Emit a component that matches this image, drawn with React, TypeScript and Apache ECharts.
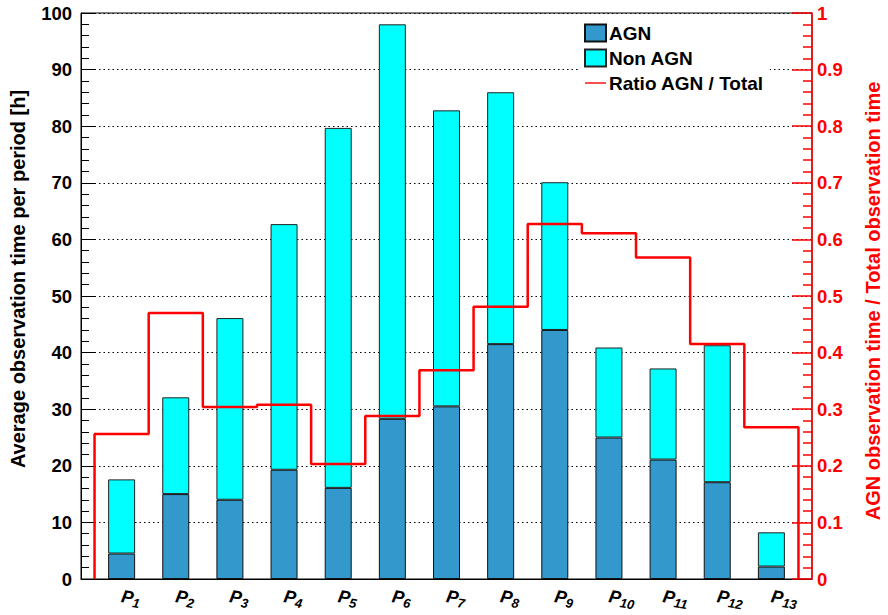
import React, { useEffect, useRef } from "react";
import * as echarts from "echarts";

const categories = ["1", "2", "3", "4", "5", "6", "7", "8", "9", "10", "11", "12", "13"];
const agnHours = [4.5, 15.0, 14.0, 19.3, 16.1, 28.3, 30.5, 41.5, 44.0, 25.0, 21.1, 17.1, 2.2];
const nonAgnHours = [13.1, 17.1, 32.1, 43.4, 63.6, 69.7, 52.3, 44.5, 26.1, 15.9, 16.1, 24.2, 6.05];
const ratioAgnTotal = [0.256, 0.47, 0.304, 0.308, 0.203, 0.288, 0.369, 0.481, 0.627, 0.611, 0.568, 0.415, 0.268];
const leftTicks = { min: 0, max: 100, interval: 10 };
const rightTicks = { min: 0, max: 1, interval: 0.1 };

const FONT = "'Liberation Sans', Arial, Helvetica, sans-serif";

// frame geometry
const FRAME = { left: 81, right: 76, top: 13, bottom: 36 };
const W = 888;

export default function App() {
  const ref = useRef<HTMLDivElement>(null);
  useEffect(() => {
    if (!ref.current) return;
    const chart = echarts.init(ref.current, null, { renderer: "svg" });
    const n = categories.length;
    const axisMin = -0.75;
    const axisMax = n - 0.25;
    const frameWidth = W - FRAME.left - FRAME.right;
    const unit = frameWidth / (axisMax - axisMin);
    const pad = (-0.5 - axisMin) * unit;

    const stepData: number[][] = [[-0.5, 0]];
    ratioAgnTotal.forEach((r, i) => stepData.push([i - 0.5, r]));
    stepData.push([n - 0.5, ratioAgnTotal[n - 1]]);
    stepData.push([n - 0.5, 0]);

    const tickFont = { fontFamily: FONT, fontSize: 18.5, fontWeight: "bold" };

    chart.setOption({
      animation: false,
      textStyle: { fontFamily: FONT },
      grid: [
        {
          left: FRAME.left,
          right: FRAME.right,
          top: FRAME.top,
          bottom: FRAME.bottom,
          show: true,
          borderColor: "#000",
          borderWidth: 1,
          backgroundColor: "transparent",
          outerBoundsMode: "none",
        },
        {
          left: FRAME.left + pad,
          right: FRAME.right + pad,
          top: FRAME.top,
          bottom: FRAME.bottom,
          show: false,
          outerBoundsMode: "none",
        },
      ],
      legend: {
        orient: "vertical",
        left: 580,
        top: 18,
        padding: [5, 6, 5, 4],
        backgroundColor: "#fff",
        itemWidth: 21,
        itemHeight: 17,
        itemGap: 5,
        symbolKeepAspect: true,
        textStyle: { fontFamily: FONT, fontSize: 19, fontWeight: "bold", color: "#000", lineHeight: 20, padding: [0, 0, 0, -2] },
        data: [
          { name: "AGN", icon: "rect" },
          { name: "Non AGN", icon: "rect" },
          { name: "Ratio AGN / Total", icon: "path://M0,0 H21 V1.4 H0 Z" },
        ],
      },
      xAxis: [
        {
          type: "value",
          gridIndex: 0,
          min: axisMin,
          max: axisMax,
          axisLine: { show: true, onZero: false, lineStyle: { color: "#000", width: 1 } },
          axisTick: { show: false },
          splitLine: { show: false },
          axisLabel: { show: false },
        },
        {
          type: "category",
          gridIndex: 1,
          data: categories,
          boundaryGap: true,
          axisLine: { show: false },
          axisTick: { show: false },
          splitLine: { show: false },
          axisLabel: {
            interval: 0,
            rotate: -10,
            margin: 17,
            formatter: (v: string) => `{p|P}{s|${v}}`,
            rich: {
              p: { fontFamily: FONT, fontSize: 18, fontWeight: "bold", fontStyle: "italic", color: "#000", lineHeight: 22 },
              s: { fontFamily: FONT, fontSize: 13, fontWeight: "bold", fontStyle: "italic", color: "#000", padding: [9, 0, 0, 0] },
            },
          },
        },
      ],
      yAxis: [
        {
          type: "value",
          gridIndex: 0,
          min: leftTicks.min,
          max: leftTicks.max,
          interval: leftTicks.interval,
          position: "left",
          name: "Average observation time per period [h]",
          nameLocation: "middle",
          nameRotate: 90,
          nameGap: 53,
          nameTextStyle: { fontFamily: FONT, fontSize: 20, fontWeight: "bold", color: "#000", padding: [0, 0, 0, 34] },
          axisLine: { show: true, onZero: false, lineStyle: { color: "#000", width: 1 } },
          axisTick: { show: true, inside: true, length: 14, lineStyle: { color: "#000" } },
          minorTick: { show: true, splitNumber: 5, length: 8, lineStyle: { color: "#000" } },
          axisLabel: { ...tickFont, color: "#000", margin: 9 },
          splitLine: { show: true, lineStyle: { color: "#000", width: 1, type: [1.5, 3] } },
        },
        {
          type: "value",
          gridIndex: 0,
          min: rightTicks.min,
          max: rightTicks.max,
          interval: rightTicks.interval,
          position: "right",
          name: "AGN observation time / Total observation time",
          nameLocation: "middle",
          nameRotate: 90,
          nameGap: 51,
          nameTextStyle: { fontFamily: FONT, fontSize: 20, fontWeight: "bold", color: "#ff0000", padding: [0, 10, 0, 0] },
          axisLine: { show: true, onZero: false, lineStyle: { color: "#ff0000", width: 1.5 } },
          axisTick: { show: true, inside: true, length: 20, lineStyle: { color: "#ff0000", width: 1.5 } },
          minorTick: { show: true, splitNumber: 5, length: 9, lineStyle: { color: "#ff0000", width: 1.5 } },
          axisLabel: { ...tickFont, color: "#ff0000", margin: 5 },
          splitLine: { show: false },
        },
        {
          type: "value",
          gridIndex: 1,
          min: leftTicks.min,
          max: leftTicks.max,
          show: false,
        },
      ],
      series: [
        {
          name: "AGN",
          type: "bar",
          xAxisIndex: 1,
          yAxisIndex: 2,
          stack: "obs",
          barWidth: 27,
          data: agnHours,
          itemStyle: { color: "#3399cc", borderColor: "#111", borderWidth: 1 },
          z: 2,
        },
        {
          name: "Non AGN",
          type: "bar",
          xAxisIndex: 1,
          yAxisIndex: 2,
          stack: "obs",
          barWidth: 27,
          data: nonAgnHours,
          itemStyle: { color: "#00ffff", borderColor: "#222", borderWidth: 1 },
          z: 2,
        },
        {
          name: "Ratio AGN / Total",
          type: "line",
          xAxisIndex: 0,
          yAxisIndex: 1,
          step: "end",
          symbol: "none",
          showSymbol: false,
          data: stepData,
          lineStyle: { color: "#ff0000", width: 2.5 },
          itemStyle: { color: "#ff0000" },
          z: 5,
        },
      ],
    });
    return () => chart.dispose();
  }, []);
  return (
    <div
      ref={ref}
      style={{ position: "fixed", left: 0, top: 0, width: 888, height: 615, background: "#fff" }}
    />
  );
}
